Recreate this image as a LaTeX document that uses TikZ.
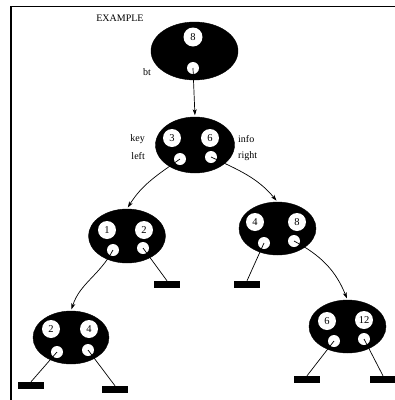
\documentclass[tikz,border=0pt]{standalone}
\usepackage{fontspec}
\setmainfont{Liberation Serif}
\usetikzlibrary{arrows.meta,shapes.geometric}
\begin{document}
\begin{tikzpicture}[x=1pt,y=-1pt,
  blob/.style={ellipse,fill=black,draw=black,inner sep=0pt,minimum width=#1},
  rec/.style={circle,fill=white,draw=none,inner sep=0pt,minimum size=18pt,font=\fontsize{10.5}{10.5}\selectfont},
  ptr/.style={circle,fill=white,draw=none,inner sep=0pt,minimum size=12pt},
  leaf/.style={rectangle,fill=black,inner sep=0pt,minimum width=26pt,minimum height=7pt},
  lbl/.style={inner sep=0pt,font=\fontsize{10}{10}\selectfont},
  link/.style={line width=0.7pt},
  arr/.style={line width=0.7pt,shorten >=1.5pt,-{Stealth[length=6pt,width=4pt,inset=1.5pt]}}]
\useasboundingbox (0,0) rectangle (395,400);
% frame
\draw[line width=1.6pt] (11,400) -- (11,6.5) -- (395,6.5);
% root
\node[blob=87pt,minimum height=58pt] (root) at (194.5,51) {};
\node[rec,minimum size=19pt] (r8) at (193,37) {8};
\node[ptr] (rp) at (193,68) {};
\node[lbl] (bt) at (147,72) {bt};
\node[lbl] (ex) at (120,18) {EXAMPLE};
% node 3,6
\node[blob=79pt,minimum height=56pt] (n2) at (195,145) {};
\node[rec] (k3) at (172,138) {3};
\node[rec] (k6) at (210,138) {6};
\node[ptr] (l2) at (180,159) {};
\node[ptr] (r2) at (211,157) {};
\node[lbl,anchor=east] (key) at (145,139) {key};
\node[lbl,anchor=east] (left) at (145,156) {left};
\node[lbl,anchor=west] (info) at (238,139) {info};
\node[lbl,anchor=west] (right) at (238,156) {right};
% left child 1,2
\node[blob=77pt,minimum height=54pt] (n3) at (127,236) {};
\node[rec] (k1) at (107,230) {1};
\node[rec] (k2) at (144,230) {2};
\node[ptr] (l3) at (113,250) {};
\node[ptr] (r3) at (143,248) {};
\node[leaf] (f3) at (167,284.5) {};
% right child 4,8
\node[blob=77pt,minimum height=53pt] (n4) at (277.5,228.5) {};
\node[rec] (k4) at (255,222) {4};
\node[rec] (k8) at (297,222) {8};
\node[ptr] (l4) at (264,243) {};
\node[ptr] (r4) at (294,241) {};
\node[leaf] (f4) at (247,284.5) {};
% bottom-left 2,4
\node[blob=76pt,minimum height=53pt] (n5) at (71,337.5) {};
\node[rec] (k5a) at (51,329) {2};
\node[rec] (k5b) at (89,329) {4};
\node[ptr] (l5) at (57,352) {};
\node[ptr] (r5) at (88,350) {};
\node[leaf] (f5a) at (31,385.5) {};
\node[leaf] (f5b) at (115,389.5) {};
% bottom-right 6,12
\node[blob=77pt,minimum height=53pt] (n6) at (347.5,326.5) {};
\node[rec] (k6a) at (327,321) {6};
\node[rec] (k6b) at (364,320) {12};
\node[ptr] (l6) at (334,341) {};
\node[ptr] (r6) at (364,339) {};
\node[leaf] (f6a) at (307,379.5) {};
\node[leaf] (f6b) at (383,379.5) {};
% connectors
\draw[arr] (rp.center) -- (n2.north);
\draw[arr] (l2.center) to[out=215,in=58] (n3.north);
\draw[arr] (r2.center) to[out=-25,in=130] (n4.north);
\draw[arr] (l3.center) to[out=-118,in=72] (n5.north);
\draw[arr] (r4.center) to[out=-28,in=112] (n6.north);
\draw[link] (r3.center) -- (f3.north);
\draw[link] (l4.center) -- (f4.north);
\draw[link] (l5.center) -- (f5a.north);
\draw[link] (r5.center) -- (f5b.north);
\draw[link] (l6.center) -- (f6a.north);
\draw[link] (r6.center) -- (f6b.north);
\end{tikzpicture}
\end{document}
